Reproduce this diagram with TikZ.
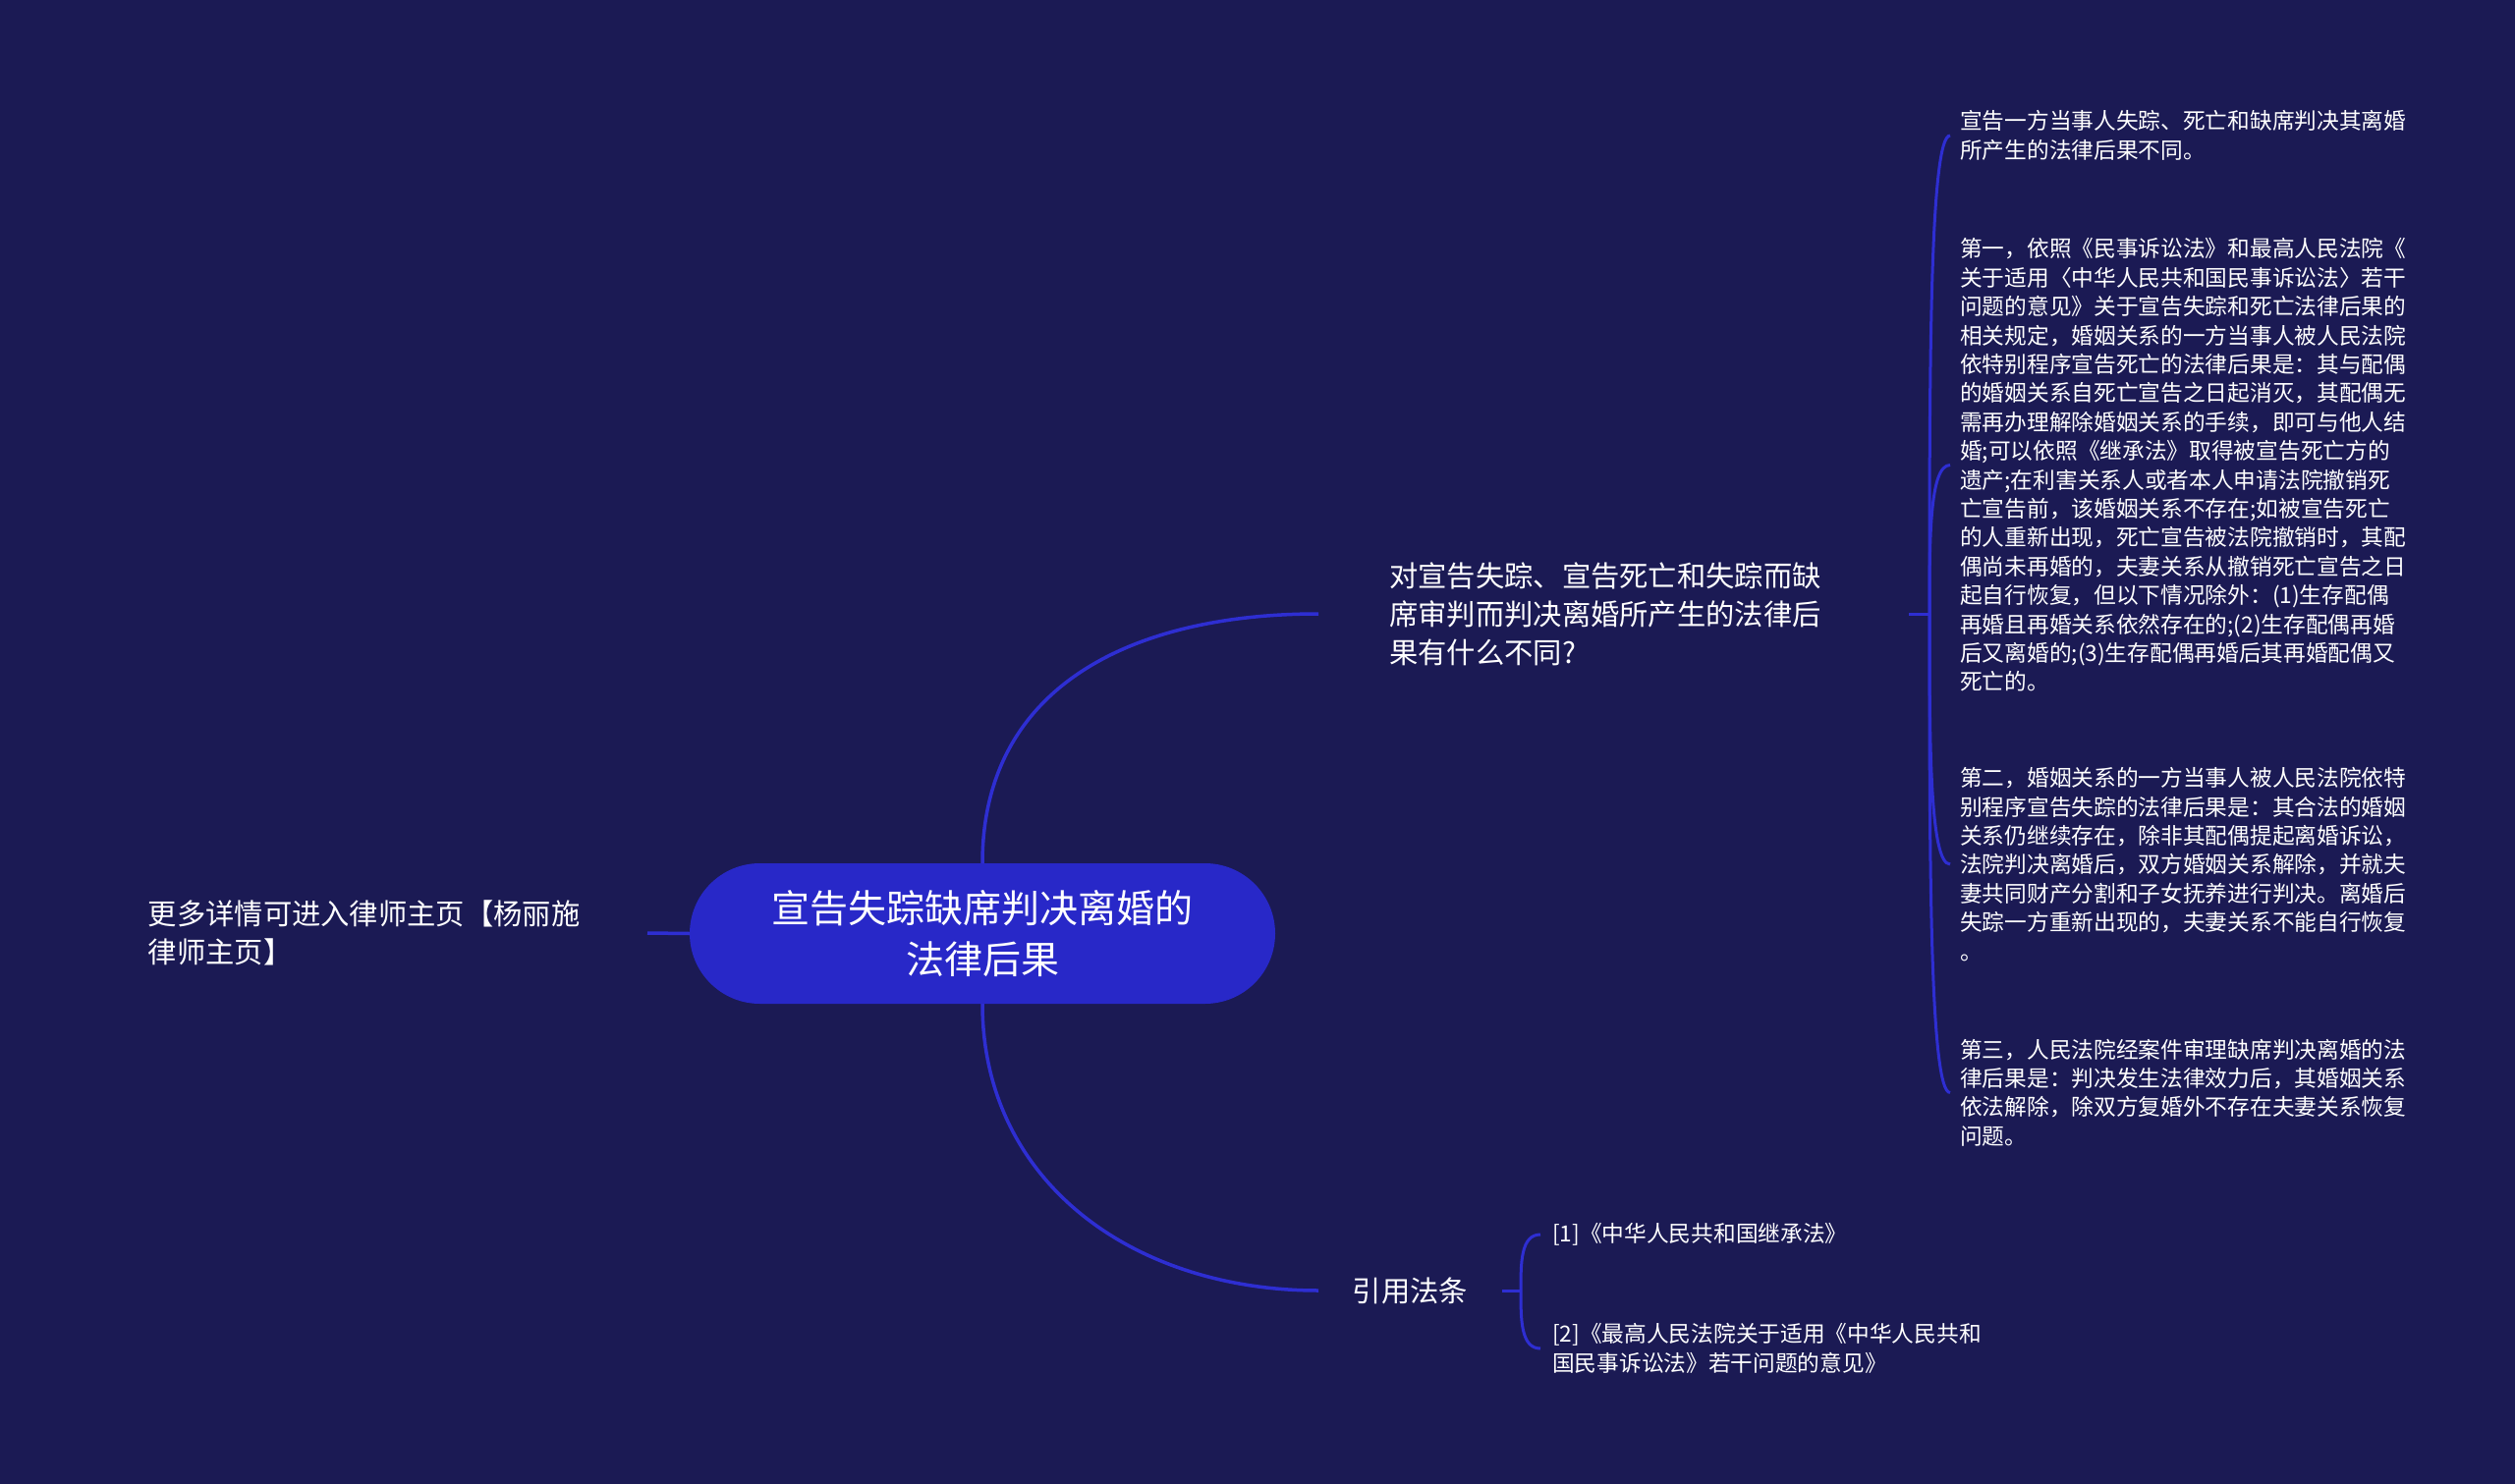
\documentclass[tikz,border=0pt]{standalone}
\usepackage{fontspec}
\newfontfamily\cjk{Noto Sans CJK SC}
\usetikzlibrary{calc}
\definecolor{bgc}{HTML}{1B1A54}
\definecolor{hubc}{HTML}{2828C8}
\definecolor{wirec}{HTML}{2E2ED2}
\begin{document}
\begin{tikzpicture}[x=1pt,y=-1pt,
  hubnode/.style={fill=hubc, rounded corners=71.5pt, minimum width=596pt, minimum height=143pt,
    text=white, font=\cjk\fontsize{39}{52}\selectfont, align=center, inner sep=0pt},
  branch/.style={text=white, font=\cjk\fontsize{29.3}{39}\selectfont, align=left, inner ysep=0pt},
  leaf/.style={text=white, font=\cjk\fontsize{22.7}{29.4}\selectfont, align=left, inner xsep=10pt, inner ysep=0pt, anchor=west},
  mainwire/.style={draw=wirec, line width=3.5pt},
  brwire/.style={draw=wirec, line width=3pt}]
\fill[bgc] (0,0) rectangle (2560,1511);
\useasboundingbox (0,0) rectangle (2560,1511);

\node[hubnode] (hub) at (1000,950.5) {宣告失踪缺席判决离婚的\\法律后果};

\node[branch, text width=508pt, inner xsep=0pt, anchor=east] (more) at (659,950) {更多详情可进入律师主页【杨丽施\\律师主页】};

\node[branch, inner xsep=72pt, text width=457pt, anchor=west] (q) at (1342,625) {对宣告失踪、宣告死亡和失踪而缺\\席审判而判决离婚所产生的法律后\\果有什么不同?};

\node[branch, inner xsep=34.5pt, anchor=west] (cite) at (1342,1314) {引用法条};

\node[leaf] (r1) at (1985,138) {宣告一方当事人失踪、死亡和缺席判决其离婚\\所产生的法律后果不同。};
\node[leaf] (r2) at (1985,473.5) {第一，依照《民事诉讼法》和最高人民法院《\\关于适用〈中华人民共和国民事诉讼法〉若干\\问题的意见》关于宣告失踪和死亡法律后果的\\相关规定，婚姻关系的一方当事人被人民法院\\依特别程序宣告死亡的法律后果是：其与配偶\\的婚姻关系自死亡宣告之日起消灭，其配偶无\\需再办理解除婚姻关系的手续，即可与他人结\\婚;可以依照《继承法》取得被宣告死亡方的\\遗产;在利害关系人或者本人申请法院撤销死\\亡宣告前，该婚姻关系不存在;如被宣告死亡\\的人重新出现，死亡宣告被法院撤销时，其配\\偶尚未再婚的，夫妻关系从撤销死亡宣告之日\\起自行恢复，但以下情况除外：(1)生存配偶\\再婚且再婚关系依然存在的;(2)生存配偶再婚\\后又离婚的;(3)生存配偶再婚后其再婚配偶又\\死亡的。};
\node[leaf] (r3) at (1985,880) {第二，婚姻关系的一方当事人被人民法院依特\\别程序宣告失踪的法律后果是：其合法的婚姻\\关系仍继续存在，除非其配偶提起离婚诉讼，\\法院判决离婚后，双方婚姻关系解除，并就夫\\妻共同财产分割和子女抚养进行判决。离婚后\\失踪一方重新出现的，夫妻关系不能自行恢复\\。};
\node[leaf] (r4) at (1985,1112.5) {第三，人民法院经案件审理缺席判决离婚的法\\律后果是：判决发生法律效力后，其婚姻关系\\依法解除，除双方复婚外不存在夫妻关系恢复\\问题。};

\node[leaf, inner xsep=12pt] (c1) at (1568,1257) {[1]《中华人民共和国继承法》};
\node[leaf, inner xsep=12pt] (c2) at (1568,1373) {[2]《最高人民法院关于适用《中华人民共和\\国民事诉讼法》若干问题的意见》};

% hub connections
\draw[mainwire] (more.east) -- (hub.west);
\draw[mainwire] (hub.north) .. controls +(0,-180) and +(-190,0) .. (q.west);
\draw[mainwire] (hub.south) .. controls +(0,180) and +(-190,0) .. (cite.west);

% right bracket
\coordinate (jq) at (1964,625);
\draw[brwire] (q.east) -- (jq);
\foreach \n in {r1,r2,r3,r4}{
  \draw[brwire] (jq) .. controls ($(jq)!0.5!(jq|-\n.west)$) and (jq|-\n.west) .. (\n.west);
}

% bottom bracket
\coordinate (jc) at (1548,1314);
\draw[brwire] (cite.east) -- (jc);
\foreach \n in {c1,c2}{
  \draw[brwire] (jc) .. controls ($(jc)!0.5!(jc|-\n.west)$) and (jc|-\n.west) .. (\n.west);
}
\end{tikzpicture}
\end{document}
